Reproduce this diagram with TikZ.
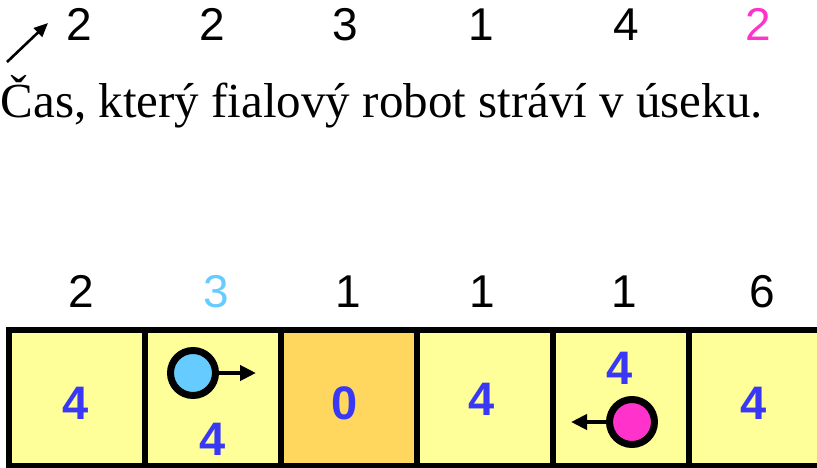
\documentclass[tikz,border=0pt]{standalone}
\usepackage{fontspec}
\setmainfont{Liberation Serif}
\newfontfamily\numfont{Liberation Sans}
\usetikzlibrary{arrows.meta}
\definecolor{cellyellow}{HTML}{FFFF99}
\definecolor{cellorange}{HTML}{FFD75E}
\definecolor{numblue}{HTML}{3838F5}
\definecolor{robcyan}{HTML}{66CCFF}
\definecolor{robpink}{HTML}{FF33CC}
\tikzset{
  cellbox/.style={draw=black, line width=6.5pt, fill=cellyellow, minimum width=136pt, minimum height=136pt, inner sep=0pt, outer sep=0pt},
  toplabel/.style={font=\numfont\fontsize{46}{46}\selectfont, inner sep=0pt, anchor=base},
  cellnum/.style={font=\numfont\bfseries\fontsize{47}{47}\selectfont, text=numblue, inner sep=0pt, anchor=base},
  robot/.style={circle, draw=black, line width=7pt, minimum size=45pt, inner sep=0pt},
  robarrow/.style={line width=4.5pt, -{Triangle[length=16pt,width=15pt]}},
  noteline/.style={line width=2.6pt, -{Triangle[length=14pt,width=12pt]}},
}
\begin{document}
\begin{tikzpicture}[x=1pt,y=-1pt]
\useasboundingbox (0,0) rectangle (817,468);
\clip (0,0) rectangle (817,468);
% top row of times
\node[toplabel] (t1) at (79,41) {2};
\node[toplabel] (t2) at (212,41) {2};
\node[toplabel] (t3) at (345,41) {3};
\node[toplabel] (t4) at (481,41) {1};
\node[toplabel] (t5) at (626,41) {4};
\node[toplabel, text=robpink] (t6) at (758,41) {2};
% sentence
\node[font=\fontsize{49}{50}\selectfont, inner sep=0pt, anchor=base west] (txt) at (0.5,118) {Čas, který fialový robot stráví v úseku.};
\coordinate (ns) at (7,62);
\coordinate (ne) at (48,23);
\draw[noteline] (ns) -- (ne);
% second row
\node[toplabel] (s1) at (81,307) {2};
\node[toplabel, text=robcyan] (s2) at (216,307) {3};
\node[toplabel] (s3) at (348,307) {1};
\node[toplabel] (s4) at (482,307) {1};
\node[toplabel] (s5) at (624,307) {1};
\node[toplabel] (s6) at (762,307) {6};
% cells
\node[cellbox] (c1) at (77,398) {};
\node[cellbox] (c2) at (213,398) {};
\node[cellbox, fill=cellorange] (c3) at (349,398) {};
\node[cellbox] (c4) at (485,398) {};
\node[cellbox] (c5) at (621,398) {};
\node[cellbox] (c6) at (757,398) {};
% cell numbers
\node[cellnum] (n1) at (76,419) {4};
\node[cellnum] (n2) at (213,455) {4};
\node[cellnum] (n3) at (345,419) {0};
\node[cellnum] (n4) at (482,415) {4};
\node[cellnum] (n5) at (620,384) {4};
\node[cellnum] (n6) at (754,419) {4};
% robots
\node[robot, fill=robcyan] (rc) at (193,373) {};
\coordinate (rce) at (256,373);
\draw[robarrow] (rc.east) -- (rce);
\node[robot, fill=robpink] (rp) at (632,422) {};
\coordinate (rpw) at (571,422);
\draw[robarrow] (rp.west) -- (rpw);
\end{tikzpicture}
\end{document}
